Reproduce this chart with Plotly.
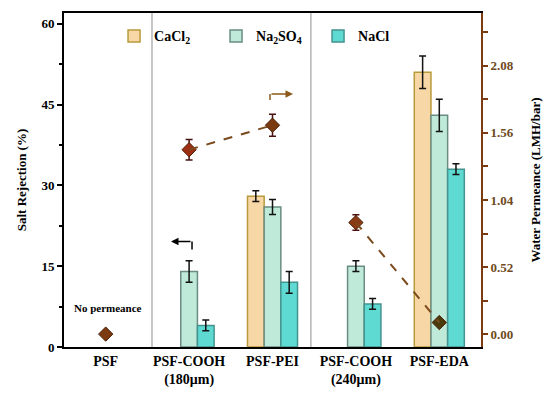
import plotly.graph_objects as go

categories = ["PSF", "PSF-COOH<br>(180μm)", "PSF-PEI", "PSF-COOH<br>(240μm)", "PSF-EDA"]
xpos = [0, 1, 2, 3, 4]

cacl2 = [None, None, 28, None, 51]
cacl2_err = [0, 0, 1, 0, 3]
na2so4 = [None, 14, 26, 15, 43]
na2so4_err = [0, 2, 1.4, 1, 3]
nacl = [None, 4, 12, 8, 33]
nacl_err = [0, 1, 2, 1, 1]

permeance = [0.0, 1.43, 1.62, 0.865, 0.09]
permeance_err = [0, 0.08, 0.085, 0.06, 0]
perm_colors = ["#7B3A10", "#9E2E14", "#7A3A10", "#8B3A16", "#4A3A0C"]

left_ticks = [0, 15, 30, 45, 60]
right_ticks = [0.0, 0.52, 1.04, 1.56, 2.08]

FONT = "Liberation Serif, Times New Roman, serif"
BROWN = "#7A3A12"

fig = go.Figure()

def add_bar(name, vals, errs, fill, edge):
    fig.add_trace(go.Bar(
        x=xpos, y=vals, name=name,
        marker=dict(color=fill, line=dict(color=edge, width=1.5)),
        error_y=dict(type="data", array=errs, visible=True, color="#111111",
                     thickness=1.5, width=3.5),
    ))

add_bar("<b>CaCl<sub>2</sub></b>", cacl2, cacl2_err, "#F8D7A6", "#B89A3A")
add_bar("<b>Na<sub>2</sub>SO<sub>4</sub></b>", na2so4, na2so4_err, "#BFEAD9", "#6A8C82")
add_bar("<b>NaCl</b>", nacl, nacl_err, "#5EDAD2", "#45938F")

# permeance points
fig.add_trace(go.Scatter(
    x=xpos, y=permeance, yaxis="y2", mode="markers", showlegend=False,
    marker=dict(symbol="diamond", size=11, color=perm_colors,
                line=dict(color="#4A2008", width=1)),
    error_y=dict(type="data", array=permeance_err, visible=True,
                 color="#4A1010", thickness=1.5, width=3.5),
))
# dashed connectors
for a, b in [(1, 2), (3, 4)]:
    fig.add_trace(go.Scatter(
        x=[xpos[a], xpos[b]], y=[permeance[a], permeance[b]], yaxis="y2",
        mode="lines", showlegend=False, hoverinfo="skip",
        line=dict(color="#7A4A1C", width=2, dash="dash"),
    ))

shapes = []
for sx in [0.555, 2.46]:
    shapes.append(dict(type="line", xref="x", yref="paper", x0=sx, x1=sx, y0=0, y1=1,
                       line=dict(color="#B4B4B4", width=1.5), layer="below"))
# vertical parts of the L arrows
shapes.append(dict(type="line", xref="x", yref="y", x0=1.035, x1=1.035, y0=18.1, y1=19.6,
                   line=dict(color="black", width=1.5)))
shapes.append(dict(type="line", xref="x", yref="y2", x0=1.97, x1=1.97, y0=1.815, y1=1.862,
                   line=dict(color="#8B5A1A", width=1.5)))

annotations = [
    dict(x=0.783, y=19.6, xref="x", yref="y", ax=1.035, ay=19.6, axref="x", ayref="y",
         showarrow=True, arrowhead=2, arrowsize=1, arrowwidth=1.5, arrowcolor="black", text=""),
    dict(x=2.246, y=1.862, xref="x", yref="y2", ax=1.97, ay=1.862, axref="x", ayref="y2",
         showarrow=True, arrowhead=2, arrowsize=1, arrowwidth=1.5, arrowcolor="#8B5A1A", text=""),
    dict(x=0.03, y=0.092, xref="x", yref="paper", text="<b>No permeance</b>", showarrow=False,
         font=dict(family=FONT, size=11, color="black")),
]

fig.update_layout(
    width=550, height=393,
    margin=dict(l=64, r=69, t=13, b=46, autoexpand=False),
    paper_bgcolor="white", plot_bgcolor="white",
    barmode="group", bargap=0.4, bargroupgap=0,
    font=dict(family=FONT, size=13, color="black"),
    shapes=shapes, annotations=annotations,
    legend=dict(orientation="h", x=0.12, y=0.93, yanchor="middle", xanchor="left",
                bgcolor="rgba(0,0,0,0)", font=dict(family=FONT, size=14),
                entrywidth=57, entrywidthmode="pixels", traceorder="normal"),
    xaxis=dict(range=[-0.5, 4.5], tickvals=xpos, ticktext=["<b>%s</b>" % c for c in categories],
               showline=True, linecolor="black", linewidth=2, mirror=True,
               showgrid=False, zeroline=False, ticks="", automargin=False,
               tickfont=dict(family=FONT, size=14, color="black")),
    yaxis=dict(range=[0, 62], tickvals=left_ticks, ticktext=["<b>%d</b>" % v for v in left_ticks],
               showline=True, linecolor="black", linewidth=2, showgrid=False, zeroline=False,
               ticks="outside", ticklen=5, tickwidth=1.5, tickcolor="black", automargin=False,
               minor=dict(tickvals=[7.5, 22.5, 37.5, 52.5], ticks="outside", ticklen=3,
                          tickwidth=1.5, tickcolor="black"),
               title=dict(text="<b>Salt Rejection (%)</b>", font=dict(family=FONT, size=13),
                          standoff=12),
               tickfont=dict(family=FONT, size=13)),
    yaxis2=dict(overlaying="y", side="right", range=[-0.10, 2.49], automargin=False,
                tickvals=right_ticks, ticktext=["<b>%.2f</b>" % v for v in right_ticks],
                showline=True, linecolor=BROWN, linewidth=2, showgrid=False, zeroline=False,
                ticks="outside", ticklen=5, tickwidth=1.5, tickcolor=BROWN,
                minor=dict(tickvals=[0.26, 0.78, 1.30, 1.82, 2.34], ticks="outside", ticklen=5,
                           tickwidth=1.5, tickcolor=BROWN),
                title=dict(text="<b>Water Permeance (LMH/bar)</b>",
                           font=dict(family=FONT, size=13, color="black"), standoff=18),
                tickfont=dict(family=FONT, size=13, color="#6E4A1C")),
)

fig.write_html("out.html", config={"displayModeBar": False},
               post_script="document.body.style.margin='0';")
